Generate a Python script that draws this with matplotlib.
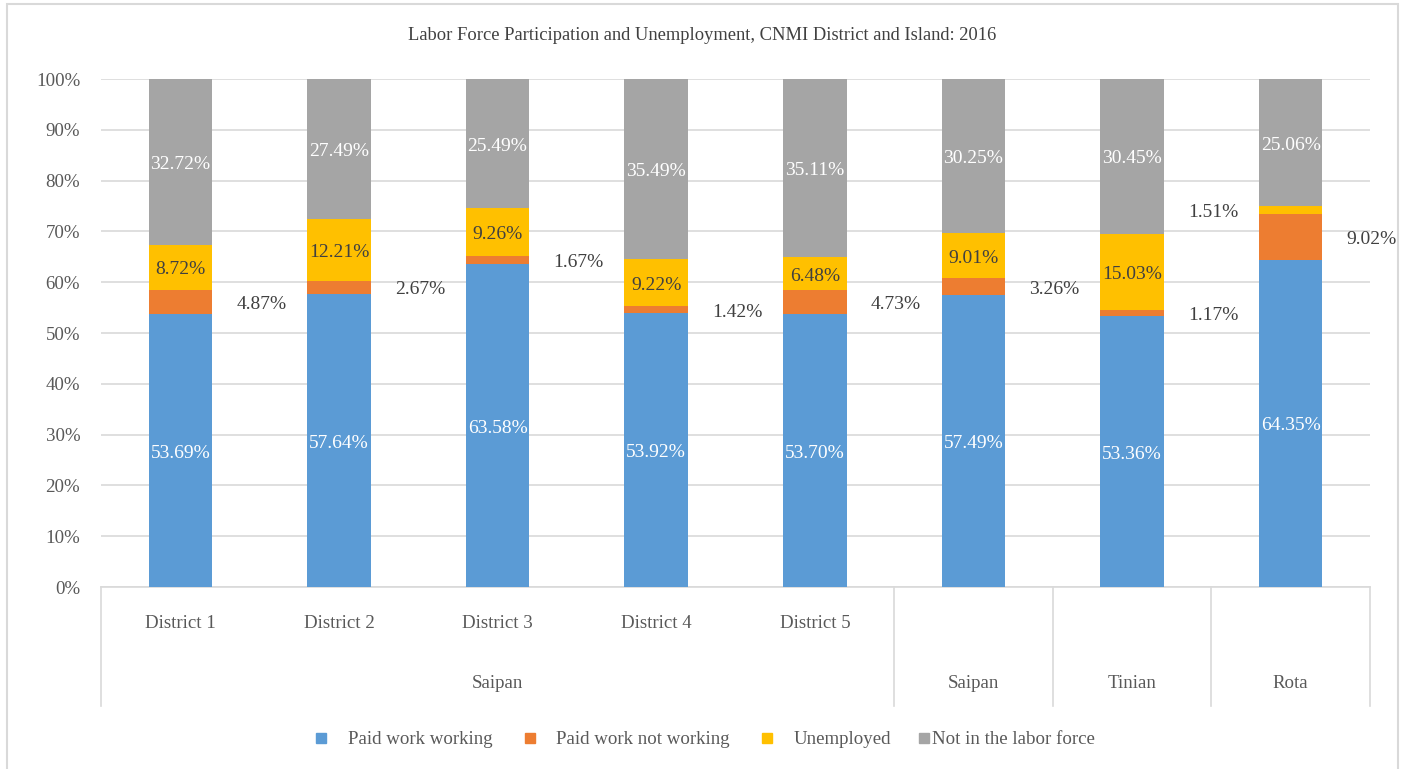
import matplotlib.pyplot as plt
import matplotlib.patches as mpatches
import matplotlib.transforms as mtransforms
import numpy as np

plt.rcParams['font.family'] = ['Liberation Serif', 'DejaVu Serif']

# Data
categories = ['District 1', 'District 2', 'District 3', 'District 4', 'District 5',
              '', '', '']
groups = ['Saipan', 'Saipan', 'Tinian', 'Rota']
group_spans = [(0, 4), (5, 5), (6, 6), (7, 7)]
paid_working = [53.69, 57.64, 63.58, 53.92, 53.70, 57.49, 53.36, 64.35]
paid_not_working = [4.87, 2.67, 1.67, 1.42, 4.73, 3.26, 1.17, 9.02]
unemployed = [8.72, 12.21, 9.26, 9.22, 6.48, 9.01, 15.03, 1.51]
not_in_lf = [32.72, 27.49, 25.49, 35.49, 35.11, 30.25, 30.45, 25.06]

series = [paid_working, paid_not_working, unemployed, not_in_lf]
names = ['Paid work working', 'Paid work not working', 'Unemployed', 'Not in the labor force']
colors = ['#5B9BD5', '#ED7D31', '#FFC000', '#A5A5A5']
label_colors = ['white', None, '#404040', 'white']

W, H = 1405, 769
fig = plt.figure(figsize=(W / 100, H / 100), dpi=100)
ax = fig.add_axes([101 / W, (H - 587) / H, (1370 - 101) / W, (587 - 79) / H])

FS_LBL = 14
FS_AX = 13.6

x = np.arange(len(categories))
vals = np.array(series)
totals = vals.sum(axis=0)
pct = vals / totals * 100
bottom = np.zeros(len(categories))
for i, (p, raw) in enumerate(zip(pct, vals)):
    ax.bar(x, p, 0.4, bottom=bottom, color=colors[i], zorder=3)
    for j in range(len(x)):
        yc = bottom[j] + p[j] / 2 - 0.5
        txt = f'{raw[j]:.2f}%'
        if i == 1:
            ax.text(x[j] + 0.51, yc, txt, ha='center', va='center', fontsize=FS_LBL, color='#404040')
        elif i == 2 and raw[j] < 3:
            ax.text(x[j] - 0.49, yc, txt, ha='center', va='center', fontsize=FS_LBL, color='#404040')
        else:
            ax.text(x[j], yc, txt, ha='center', va='center', fontsize=FS_LBL, color=label_colors[i], zorder=4)
    bottom += p

ax.set_xlim(-0.5, len(categories) - 0.5)
ax.set_ylim(0, 100)
ax.set_yticks(np.arange(0, 101, 10))
ax.set_yticklabels([f'{v}%' for v in range(0, 101, 10)], fontsize=FS_AX, color='#595959')
ax.tick_params(axis='y', length=0, pad=15)
ax.set_xticks([])
ax.grid(axis='y', color='#D9D9D9', linewidth=1.2, zorder=0)
for s in ['left', 'right', 'top']:
    ax.spines[s].set_visible(False)
ax.spines['bottom'].set_color('#D9D9D9')
ax.spines['bottom'].set_linewidth(1.2)

# multi-level category axis
trans = mtransforms.blended_transform_factory(ax.transData, ax.transAxes)
for j, c in enumerate(categories):
    ax.text(x[j], -0.072, c, transform=trans, ha='center', va='center', fontsize=FS_AX, color='#595959')
for g, (a, b) in zip(groups, group_spans):
    ax.text((a + b) / 2, -0.189, g, transform=trans, ha='center', va='center', fontsize=FS_AX, color='#595959')
sep = [-0.5] + [b + 0.5 for a, b in group_spans]
for s in sep:
    ax.plot([s, s], [0, -0.234], transform=trans, color='#D9D9D9', lw=1.2, clip_on=False)

fig.text(0.5, (H - 35) / H, 'Labor Force Participation and Unemployment, CNMI District and Island: 2016',
         ha='center', va='center', fontsize=13.3, color='#404040')

# legend
leg_marker_x = [316, 525, 762, 919]
leg_text_x = [348, 556, 794, 932]
for mx, tx, n, c in zip(leg_marker_x, leg_text_x, names, colors):
    fig.patches.append(mpatches.Rectangle((mx / W, (H - 743) / H), 10 / W, 10 / H,
                                          transform=fig.transFigure, color=c))
    fig.text(tx / W, (H - 740) / H, n, ha='left', va='center', fontsize=FS_AX, color='#595959')

# outer chart border
fig.patches.append(mpatches.Rectangle((7 / W, -0.01), (1398 - 7) / W, (H - 4) / H + 0.01,
                                      transform=fig.transFigure, fill=False,
                                      edgecolor='#D9D9D9', lw=1.5))

fig.savefig('out.png', dpi=100)
